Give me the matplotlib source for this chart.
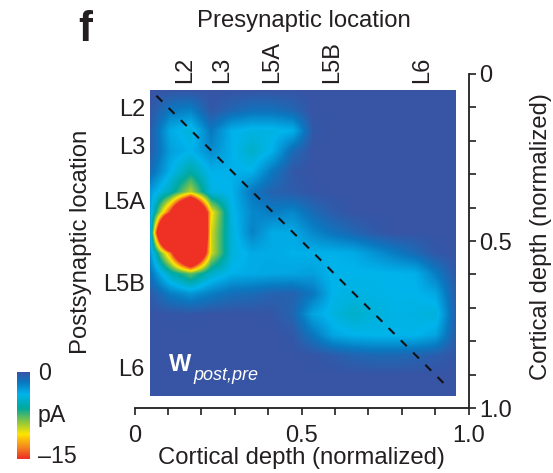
import numpy as np
import matplotlib
matplotlib.use('Agg')
import matplotlib.pyplot as plt
from matplotlib.colors import LinearSegmentedColormap
from matplotlib.patches import Rectangle

plt.rcParams['font.family'] = ['Liberation Sans', 'DejaVu Sans']

# synaptic current map, pA (rows = postsynaptic, columns = presynaptic), read by eye
w_post_pre = -np.array([
    [.1, .1, .1, .1, .1, .1, .1, .1, .1, .1, .1, .1, .1, .1, .1, .1],
    [.2, 1.8, 2.2, .3, 1.0, 1.5, 1.5, 1.0, .1, .1, .1, .1, .1, .1, .1, .1],
    [.4, 3.6, 4.5, 1.8, 3.8, 4.2, 4.2, 3.8, .3, .1, .1, .1, .1, .1, .1, .1],
    [.5, 3.2, 3.9, 2.5, 3.8, 5.0, 3.8, 1.2, .1, .1, .1, .1, .1, .1, .1, .1],
    [1.2, 3.8, 6.0, 3.8, 3.8, 3.8, 1.8, .3, .1, .1, .1, .1, .1, .1, .1, .1],
    [3.0, 5.5, 9.5, 4.2, 3.9, 1.8, .8, .5, .2, .1, .1, .1, .1, .1, .1, .1],
    [3.0, 15., 32., 11., 4.2, 2.4, 2.0, 2.4, 1.2, .5, .1, .1, .1, .1, .1, .1],
    [2.5, 40., 40., 10., 4.5, 2.2, 3.6, 3.6, 2.4, 1.6, 1.0, .4, .1, .1, .1, .1],
    [2.5, 13., 30., 10., 4.5, 3.6, 3.6, 3.8, 3.8, 3.8, 3.6, 2.8, 2.0, 1.2, .3, .1],
    [1.5, 5.5, 8.0, 5.0, 3.8, 3.6, 3.5, 3.4, 3.2, 4.0, 4.0, 4.0, 3.9, 3.8, 2.0, .3],
    [.4, 2.0, 2.8, 2.0, 1.4, 1.2, .8, .8, 1.8, 4.0, 4.2, 4.1, 4.0, 4.0, 3.5, .5],
    [.1, .2, .2, .1, .1, .1, .2, .9, 3.4, 4.3, 5.0, 4.4, 4.1, 4.2, 4.5, .7],
    [.1, .1, .1, .1, .1, .1, .1, .3, 1.8, 3.5, 3.9, 4.0, 4.0, 4.0, 3.4, .5],
    [.1, .1, .1, .1, .1, .1, .1, .1, .2, .5, .9, 1.1, 1.1, .9, .6, .2],
    [.1, .1, .1, .1, .1, .1, .1, .1, .1, .1, .1, .1, .1, .1, .1, .1],
    [.1, .1, .1, .1, .1, .1, .1, .1, .1, .1, .1, .1, .1, .1, .1, .1],
])
depth_ticks = [0, 0.1, 0.2, 0.3, 0.4, 0.5, 0.6, 0.7, 0.8, 0.9, 1.0]
depth_labels = ['0', '', '', '', '', '0.5', '', '', '', '', '1.0']
layers = ['L2', 'L3', 'L5A', 'L5B', 'L6']
pre_pos = [0.151, 0.262, 0.412, 0.592, 0.861]
post_pos = [0.108, 0.222, 0.386, 0.632, 0.886]
text_col = '#231f20'

cmap = LinearSegmentedColormap.from_list('wmap', [
    (0.00, '#ee3124'), (0.12, '#f58220'), (0.28, '#ffe600'), (0.42, '#8cc63f'),
    (0.58, '#00a99d'), (0.74, '#00b4ec'), (0.88, '#0a78c0'), (1.00, '#3a53a4')])

W, H = 553, 473
fig = plt.figure(figsize=(W / 100, H / 100), dpi=100)
ax = fig.add_axes([134.7 / W, 1 - 408 / H, 333.8 / W, 334 / H])
# nodes sit on the edges of the panel, so the image runs half a cell past it and gets clipped
x0, x1, y0, y1 = 0.046, 0.962, 0.048, 0.964
hx = (x1 - x0) / 15 / 2
hy = (y1 - y0) / 15 / 2
im = ax.imshow(w_post_pre, cmap=cmap, vmin=-15, vmax=0, interpolation='bilinear',
               extent=[x0 - hx, x1 + hx, y1 + hy, y0 - hy], aspect='auto')
im.set_clip_path(Rectangle((x0, y0), x1 - x0, y1 - y0, transform=ax.transData))
ax.set_xlim(0, 1)
ax.set_ylim(1, 0)
ax.plot([0.065, 0.937], [0.065, 0.937], color='#111111', lw=1.5, dashes=(4, 4.3))

for s in ['top', 'left']:
    ax.spines[s].set_visible(False)
for s in ['bottom', 'right']:
    ax.spines[s].set_linewidth(1.3)
    ax.spines[s].set_color(text_col)
ax.yaxis.tick_right()
ax.set_xticks(depth_ticks)
ax.set_xticklabels(depth_labels)
ax.set_yticks(depth_ticks)
ax.set_yticklabels(depth_labels)
ax.tick_params(length=5, width=1.2, color=text_col, labelsize=17, labelcolor=text_col, pad=3)
ax.tick_params(axis='x', pad=7)

fig.text(301 / W, 1 - 458 / H, 'Cortical depth (normalized)', ha='center', va='center', fontsize=17.2, color=text_col)
fig.text(541 / W, 1 - 237 / H, 'Cortical depth (normalized)', ha='center', va='center', rotation=90,
         fontsize=17.2, color=text_col)

for name, x in zip(layers, pre_pos):
    ax.text(x, 0.973, name, transform=ax.transAxes, rotation=90, ha='center', va='bottom',
            fontsize=17, color=text_col)
for name, y in zip(layers, post_pos):
    ax.text(145 / W, 1 - (74 + y * 334) / H, name, transform=fig.transFigure, ha='right', va='center',
            fontsize=17, color=text_col)

fig.text(304 / W, 1 - 21 / H, 'Presynaptic location', ha='center', va='center', fontsize=17.2, color=text_col)
fig.text(81 / W, 1 - 242 / H, 'Postsynaptic location', ha='center', va='center', rotation=90,
         fontsize=17.2, color=text_col)
fig.text(85 / W, 1 - 30 / H, 'f', ha='center', va='center', fontsize=30, fontweight='bold', color=text_col)
fig.text(169 / W, 1 - 364 / H, 'W', ha='left', va='center', fontsize=17, fontweight='bold', color='white')
fig.text(193 / W, 1 - 375 / H, 'post,pre', ha='left', va='center', fontsize=13, style='italic', color='white')

# colour bar
cax = fig.add_axes([17 / W, 1 - 459 / H, 13 / W, 87 / H])
cax.imshow(np.linspace(0, -15, 64).reshape(-1, 1), cmap=cmap, vmin=-15, vmax=0, aspect='auto')
cax.axis('off')
for label, y in zip(['0', 'pA', '\u201315'], [374, 415, 456]):
    fig.text(38 / W, 1 - y / H, label, ha='left', va='center', fontsize=16.7, color=text_col)

fig.savefig('out.png', dpi=100)
